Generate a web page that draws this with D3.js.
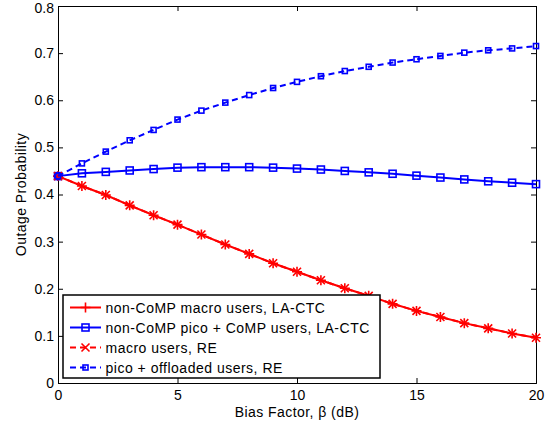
<!DOCTYPE html>
<html><head><meta charset="utf-8">
<script src="https://cdn.jsdelivr.net/npm/d3@7"></script>
<style>body{margin:0;background:#fff}svg{display:block}text{font-family:"Liberation Sans",Arial,sans-serif}</style>
</head><body>
<svg id="c" width="558" height="426"></svg>
<script>
const bias = d3.range(0, 21);
const macroLA = [0.439,0.418,0.399,0.377,0.356,0.336,0.315,0.294,0.274,0.254,0.236,0.218,0.201,0.185,0.168,0.153,0.140,0.127,0.116,0.105,0.096];
const macroRE = [0.439,0.418,0.399,0.377,0.356,0.336,0.315,0.294,0.274,0.254,0.236,0.218,0.201,0.185,0.168,0.153,0.140,0.127,0.116,0.105,0.096];
const picoLA = [0.439,0.445,0.448,0.451,0.454,0.457,0.458,0.458,0.458,0.457,0.455,0.453,0.450,0.447,0.444,0.440,0.436,0.432,0.428,0.425,0.422];
const picoRE = [0.439,0.466,0.491,0.515,0.537,0.559,0.578,0.595,0.611,0.626,0.639,0.651,0.662,0.671,0.680,0.687,0.694,0.701,0.706,0.710,0.715];
const xTicks = [0,5,10,15,20];
const yTicks = [0,0.1,0.2,0.3,0.4,0.5,0.6,0.7,0.8];
const legendLabels = ["non-CoMP macro users, LA-CTC","non-CoMP pico + CoMP users, LA-CTC","macro users, RE","pico + offloaded users, RE"];

const svg = d3.select("#c");
const L=58,R=536,T=6,B=383;
const x = d3.scaleLinear().domain([0,20]).range([L,R]);
const y = d3.scaleLinear().domain([0,0.8]).range([B,T]);

svg.append("rect").attr("x",L).attr("y",T).attr("width",R-L).attr("height",B-T).attr("fill","#fff");

const ax = svg.append("g").attr("transform",`translate(0,${B})`).call(d3.axisBottom(x).tickValues(xTicks).tickSize(-5).tickPadding(7).tickFormat(d3.format("d")));
const axT = svg.append("g").attr("transform",`translate(0,${T})`).call(d3.axisTop(x).tickValues(xTicks).tickSize(-5).tickFormat(""));
const ay = svg.append("g").attr("transform",`translate(${L},0)`).call(d3.axisLeft(y).tickValues(yTicks).tickSize(-5).tickPadding(4).tickFormat(d=>d===0?"0":d3.format(".1f")(d)));
const ayR = svg.append("g").attr("transform",`translate(${R},0)`).call(d3.axisRight(y).tickValues(yTicks).tickSize(-5).tickFormat(""));
[ax,axT,ay,ayR].forEach(g=>{g.select(".domain").attr("stroke","#000").attr("stroke-width",1);g.selectAll(".tick line").attr("stroke","#000");g.selectAll("text").attr("font-size",14).attr("fill","#000").attr("font-family","'Liberation Sans',Arial,sans-serif");});
ay.selectAll(".tick").filter(d=>d===0.8).select("text").attr("y",2.5);

svg.append("text").attr("x",(L+R)/2).attr("y",417).attr("text-anchor","middle").attr("font-size",14).attr("letter-spacing",0.45).text("Bias Factor, β (dB)");
svg.append("text").attr("transform",`translate(26,${(T+B)/2}) rotate(-90)`).attr("text-anchor","middle").attr("font-size",14).attr("letter-spacing",0.45).text("Outage Probability");

const plot = svg.append("g");
function mk(g, type, cx, cy, color){
  if(type==="plus"){
    g.append("path").attr("d",`M${cx-5},${cy}H${cx+5}M${cx},${cy-5}V${cy+5}`).attr("stroke",color).attr("stroke-width",1.6).attr("fill","none");
  } else if(type==="x"){
    g.append("path").attr("d",`M${cx-4},${cy-4}L${cx+4},${cy+4}M${cx-4},${cy+4}L${cx+4},${cy-4}`).attr("stroke",color).attr("stroke-width",1.6).attr("fill","none");
  } else if(type==="sq"){
    g.append("rect").attr("x",cx-3.5).attr("y",cy-3.5).attr("width",7).attr("height",7).attr("stroke",color).attr("stroke-width",1.6).attr("fill","none");
  } else if(type==="ssq"){
    g.append("rect").attr("x",cx-2.5).attr("y",cy-2.5).attr("width",5).attr("height",5).attr("stroke",color).attr("stroke-width",1.6).attr("fill","none");
  }
}
const series = [
  {v:macroLA,color:"#ff0000",dash:null,m:"plus"},
  {v:picoLA,color:"#0000ff",dash:null,m:"sq"},
  {v:macroRE,color:"#ff0000",dash:"6,4",m:"x"},
  {v:picoRE,color:"#0000ff",dash:"6,4",m:"ssq"}
];
const line = d3.line().x((d,i)=>x(bias[i])).y(d=>y(d));
series.forEach(s=>{
  plot.append("path").datum(s.v).attr("d",line).attr("fill","none").attr("stroke",s.color).attr("stroke-width",2).attr("stroke-dasharray",s.dash);
  s.v.forEach((v,i)=>mk(plot,s.m,x(bias[i]),y(v),s.color));
});

const lg = svg.append("g");
lg.append("rect").attr("x",63).attr("y",295).attr("width",317).attr("height",83).attr("fill","#fff").attr("stroke","#000").attr("stroke-width",1.5);
series.forEach((s,i)=>{
  const yy = 307.5 + i*20;
  lg.append("line").attr("x1",70).attr("x2",101).attr("y1",yy).attr("y2",yy).attr("stroke",s.color).attr("stroke-width",2).attr("stroke-dasharray",s.dash);
  mk(lg,s.m,85.5,yy,s.color);
  lg.append("text").attr("x",105.5).attr("y",yy+5).attr("font-size",14).attr("letter-spacing",0.5).text(legendLabels[i]);
});
</script>
</body></html>
